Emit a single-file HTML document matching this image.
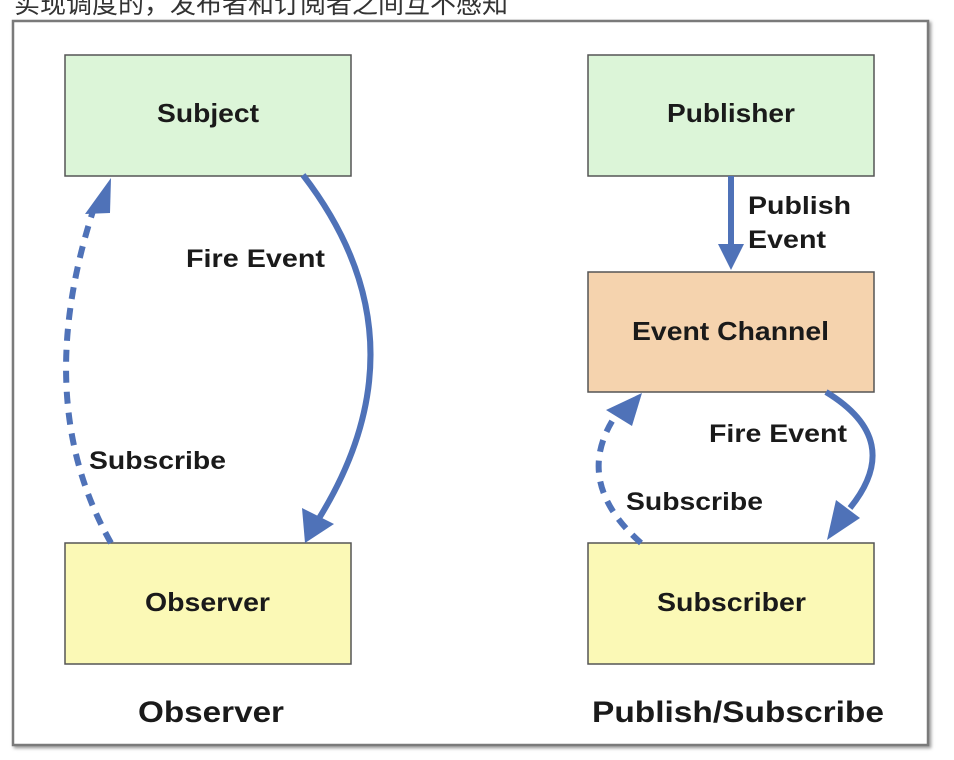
<!DOCTYPE html>
<html><head><meta charset="utf-8">
<style>
html,body{margin:0;padding:0;background:#fff;width:954px;height:760px;overflow:hidden;}
.cap{position:absolute;left:14px;top:-16px;font:26px "Liberation Sans","Noto Sans CJK SC",sans-serif;color:#333;white-space:nowrap;}
svg{position:absolute;left:0;top:0;}
text{font-family:"Liberation Sans",sans-serif;font-weight:bold;fill:#1a1a1a;}
</style></head><body>
<div class="cap">实现调度的，发布者和订阅者之间互不感知</div>
<svg width="954" height="760" viewBox="0 0 954 760">
<defs>
<filter id="sh" x="-5%" y="-5%" width="110%" height="110%"><feDropShadow dx="2" dy="2" stdDeviation="1.5" flood-color="#999"/></filter>
</defs>
<rect x="13" y="21" width="915" height="724" fill="#fff" stroke="#7a7a7a" stroke-width="2.5" filter="url(#sh)"/>
<g stroke="#555" stroke-width="1.5">
<rect x="65" y="55" width="286" height="121" fill="#dcf5d8"/>
<rect x="588" y="55" width="286" height="121" fill="#dcf5d8"/>
<rect x="588" y="272" width="286" height="120" fill="#f5d3ae"/>
<rect x="65" y="543" width="286" height="121" fill="#fbf9b6"/>
<rect x="588" y="543" width="286" height="121" fill="#fbf9b6"/>
</g>
<g font-size="26" lengthAdjust="spacingAndGlyphs">
<text x="157" y="122" textLength="102" lengthAdjust="spacingAndGlyphs">Subject</text>
<text x="667" y="122" textLength="128" lengthAdjust="spacingAndGlyphs">Publisher</text>
<text x="632" y="340" textLength="197" lengthAdjust="spacingAndGlyphs">Event Channel</text>
<text x="145" y="611" textLength="125" lengthAdjust="spacingAndGlyphs">Observer</text>
<text x="657" y="611" textLength="149" lengthAdjust="spacingAndGlyphs">Subscriber</text>
<text x="138" y="722" font-size="30" textLength="146" lengthAdjust="spacingAndGlyphs">Observer</text>
<text x="592" y="722" font-size="30" textLength="292" lengthAdjust="spacingAndGlyphs">Publish/Subscribe</text>
</g>
<g font-size="25">
<text x="186" y="267" textLength="139" lengthAdjust="spacingAndGlyphs">Fire Event</text>
<text x="89" y="469" textLength="137" lengthAdjust="spacingAndGlyphs">Subscribe</text>
<text x="748" y="214" textLength="103" lengthAdjust="spacingAndGlyphs">Publish</text>
<text x="748" y="248" textLength="78" lengthAdjust="spacingAndGlyphs">Event</text>
<text x="709" y="442" textLength="138" lengthAdjust="spacingAndGlyphs">Fire Event</text>
<text x="626" y="510" textLength="137" lengthAdjust="spacingAndGlyphs">Subscribe</text>
</g>
<g fill="none" stroke="#4f72b8" stroke-width="6">
<path d="M303 175 Q430 340 318 520"/>
<path d="M111 543 Q30 400 95 205" stroke-dasharray="12 9"/>
<path d="M731 176 L731 250"/>
<path d="M826 392 Q905 440 850 508"/>
<path d="M641 543 Q570 480 618 412" stroke-dasharray="12 9"/>
</g>
<g fill="#4f72b8">
<polygon points="305,543 302,508 334,524"/>
<polygon points="111,178 85,214 110,213"/>
<polygon points="731,270 718,244 744,244"/>
<polygon points="827,540 836,500 860,518"/>
<polygon points="642,393 606,410 632,426"/>
</g>
</svg>
</body></html>
